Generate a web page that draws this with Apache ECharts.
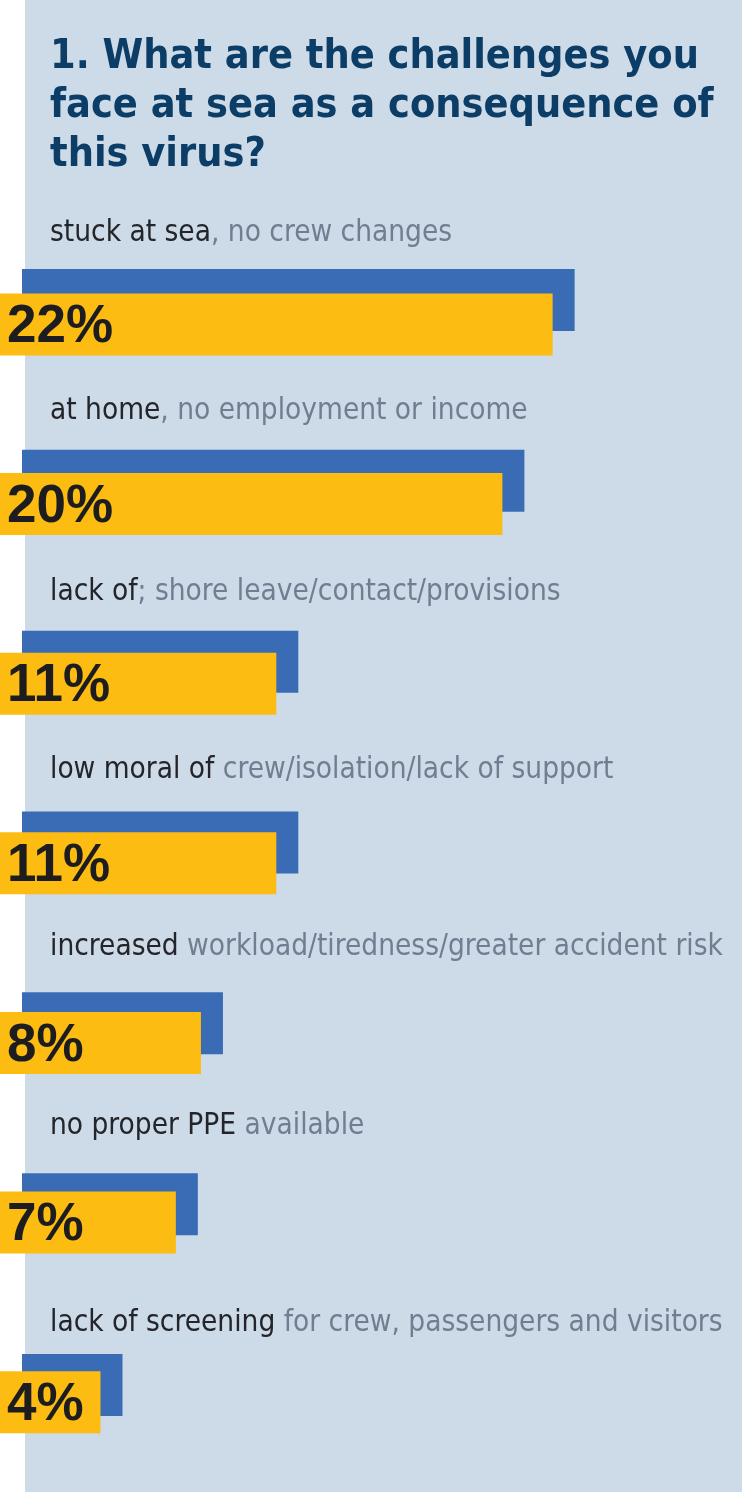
<!DOCTYPE html>
<html><head><meta charset="utf-8">
<script src="https://cdn.jsdelivr.net/npm/echarts@6/dist/echarts.min.js"></script>
<style>html,body{margin:0;padding:0;background:#fff}#c{width:742px;height:1492px}</style>
</head><body><div id="c"></div>
<script>
var titleText = '1. What are the challenges you\nface at sea as a consequence of\nthis virus?';
var darkParts = ['stuck at sea', 'at home', 'lack of', 'low moral of', 'increased', 'no proper PPE', 'lack of screening'];
var grayParts = [', no crew changes', ', no employment or income', '; shore leave/contact/provisions', ' crew/isolation/lack of support', ' workload/tiredness/greater accident risk', ' available', ' for crew, passengers and visitors'];
var values = [22, 20, 11, 11, 8, 7, 4];
var categories = darkParts.map(function(d, i){ return d + grayParts[i]; });

// layout only: vertical nudge of each caption above its bar (px)
var captionDy = [-36, -38, -38, -41, -45, -47, -31];

var narrow = '"DejaVu Sans Condensed", "Liberation Sans Narrow", "Roboto", sans-serif';
var pxPerPct = 25.12;
var xMax = 28;
var gridW = xMax * pxPerPct;
var rowH = 180.83;
var gridH = rowH * categories.length;

var chart = echarts.init(document.getElementById('c'), null, {renderer: 'canvas'});
chart.setOption({
  backgroundColor: '#ffffff',
  animation: false,
  graphic: [{type: 'rect', z: -10, shape: {x: 25, y: 0, width: 717, height: 1492}, style: {fill: '#cddae7'}}],
  title: {
    text: titleText, left: 45, top: 28,
    textStyle: {fontFamily: narrow, fontWeight: 'bold', fontSize: 41, lineHeight: 49, color: '#0b3d66'}
  },
  grid: [
    {left: 22, top: 325 - rowH / 2 - 25, width: gridW, height: gridH},
    {left: 0, top: 325 - rowH / 2, width: gridW, height: gridH}
  ],
  xAxis: [
    {gridIndex: 0, type: 'value', min: 0, max: xMax, show: false},
    {gridIndex: 1, type: 'value', min: 0, max: xMax, show: false}
  ],
  yAxis: [
    {gridIndex: 0, type: 'category', data: categories, inverse: true, show: false},
    {gridIndex: 1, type: 'category', data: categories, inverse: true, show: false}
  ],
  series: [
    {
      type: 'bar', xAxisIndex: 0, yAxisIndex: 0, barWidth: 62, z: 2,
      itemStyle: {color: '#3a6bb5'},
      data: values.map(function(v, i){
        return {value: v, name: categories[i], label: {position: [28, captionDy[i]]}};
      }),
      label: {
        show: true, position: [28, -40], verticalAlign: 'middle', align: 'left',
        formatter: function(p){ return '{d|' + darkParts[p.dataIndex] + '}{g|' + grayParts[p.dataIndex] + '}'; },
        rich: {
          d: {fontFamily: narrow, fontSize: 29.5, color: '#23252a'},
          g: {fontFamily: narrow, fontSize: 29.5, color: '#717e92'}
        }
      }
    },
    {
      type: 'bar', xAxisIndex: 1, yAxisIndex: 1, barWidth: 62, z: 3,
      itemStyle: {color: '#fcbc11'},
      data: values,
      label: {
        show: true, position: 'insideLeft', distance: 7, offset: [0, 3],
        formatter: '{c}%',
        fontFamily: '"Liberation Sans", Arial, sans-serif', fontWeight: 'bold', fontSize: 53, color: '#1d1d1f'
      }
    }
  ]
});
</script></body></html>
